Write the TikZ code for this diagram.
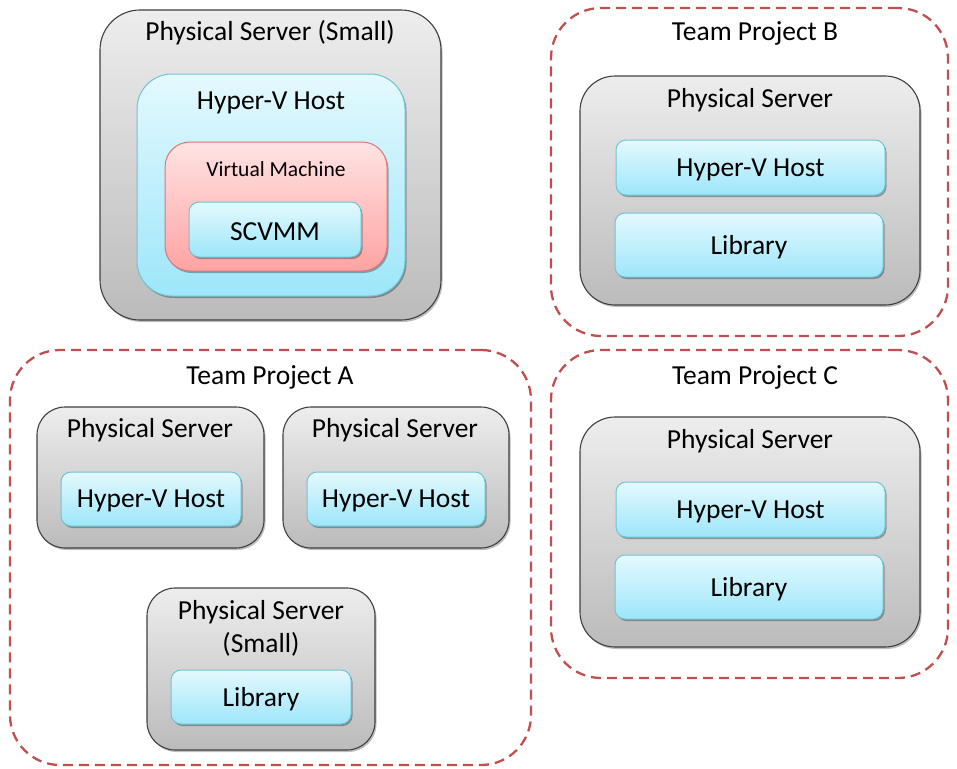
\documentclass[tikz,border=0pt]{standalone}
\usepackage{fontspec}
\setmainfont{Carlito}
\usetikzlibrary{shadows}
\definecolor{gtop}{HTML}{EDEDED}
\definecolor{gbot}{HTML}{BBBBBB}
\definecolor{gline}{HTML}{404040}
\definecolor{ctop}{HTML}{E4F9FE}
\definecolor{cbot}{HTML}{9DE6FA}
\definecolor{cline}{HTML}{6EC3D6}
\definecolor{ptop}{HTML}{FFE3E3}
\definecolor{pbot}{HTML}{FFA3A3}
\definecolor{pline}{HTML}{E07474}
\definecolor{dred}{HTML}{C0504D}
\begin{document}
\begin{tikzpicture}[x=1pt,y=-1pt,
  box/.style={anchor=north west, inner sep=0pt, outer sep=0pt},
  graybox/.style={box, draw=gline, line width=1.1pt, top color=gtop, bottom color=gbot, rounded corners=#1,
    drop shadow={shadow xshift=1.5pt, shadow yshift=-2pt, opacity=0.25, fill=black}},
  cyanbox/.style={box, draw=cline, line width=1pt, top color=ctop, bottom color=cbot, rounded corners=#1,
    drop shadow={shadow xshift=1.5pt, shadow yshift=-2pt, opacity=0.3, fill=black}},
  pinkbox/.style={box, draw=pline, line width=1pt, top color=ptop, bottom color=pbot, rounded corners=#1,
    drop shadow={shadow xshift=1.5pt, shadow yshift=-2pt, opacity=0.3, fill=black}},
  team/.style={box, draw=dred, line width=2.3pt, dash pattern=on 10pt off 6pt, rounded corners=50pt},
  lbl/.style={font=\fontsize{27.5}{33}\selectfont, inner sep=0pt, align=center, yshift=-2pt},
  slbl/.style={font=\fontsize{21.5}{26}\selectfont, inner sep=0pt, yshift=-1pt}
]
\useasboundingbox (0,0) rectangle (957,768);

% Top-left physical server (small)
\node[graybox=40pt, minimum width=341pt, minimum height=310pt] (ps0) at (100,10) {};
\node[lbl] (ps0t) at (270,31) {Physical Server (Small)};
\node[cyanbox=35pt, minimum width=268pt, minimum height=222pt] (hv0) at (137,74) {};
\node[lbl] (hv0t) at (271,101) {Hyper-V Host};
\node[pinkbox=25pt, minimum width=222pt, minimum height=129pt] (vm0) at (165,142) {};
\node[slbl] (vm0t) at (276,168) {Virtual Machine};
\node[cyanbox=10pt, minimum width=172pt, minimum height=55pt] (sc0) at (189,202) {};
\node[lbl] (sc0t) at (sc0.center) {SCVMM};

% Team Project B
\node[team, minimum width=397pt, minimum height=328pt] (tpb) at (551,8) {};
\node[lbl] (tpbt) at (755,31) {Team Project B};
\node[graybox=35pt, minimum width=340pt, minimum height=229pt] (psb) at (580,76) {};
\node[lbl] (psbt) at (750,98) {Physical Server};
\node[cyanbox=10pt, minimum width=269pt, minimum height=55pt] (hvb) at (616,140) {};
\node[lbl] (hvbt) at (hvb.center) {Hyper-V Host};
\node[cyanbox=10pt, minimum width=268pt, minimum height=64pt] (lbb) at (615,213) {};
\node[lbl] (lbbt) at (lbb.center) {Library};

% Team Project C
\node[team, minimum width=397pt, minimum height=328pt] (tpc) at (551,350) {};
\node[lbl] (tpct) at (755,375) {Team Project C};
\node[graybox=35pt, minimum width=340pt, minimum height=230pt] (psc) at (580,417) {};
\node[lbl] (psct) at (750,439) {Physical Server};
\node[cyanbox=10pt, minimum width=269pt, minimum height=55pt] (hvc) at (616,482) {};
\node[lbl] (hvct) at (hvc.center) {Hyper-V Host};
\node[cyanbox=10pt, minimum width=268pt, minimum height=64pt] (lbc) at (615,555) {};
\node[lbl] (lbct) at (lbc.center) {Library};

% Team Project A
\node[team, minimum width=521pt, minimum height=415pt] (tpa) at (10,350) {};
\node[lbl] (tpat) at (270,375) {Team Project A};
\node[graybox=28pt, minimum width=227pt, minimum height=141pt] (psa1) at (37,407) {};
\node[lbl] (psa1t) at (150,428) {Physical Server};
\node[cyanbox=10pt, minimum width=180pt, minimum height=54pt] (hva1) at (61,472) {};
\node[lbl] (hva1t) at (hva1.center) {Hyper-V Host};
\node[graybox=28pt, minimum width=226pt, minimum height=141pt] (psa2) at (283,407) {};
\node[lbl] (psa2t) at (395,428) {Physical Server};
\node[cyanbox=10pt, minimum width=178pt, minimum height=54pt] (hva2) at (307,472) {};
\node[lbl] (hva2t) at (hva2.center) {Hyper-V Host};
\node[graybox=28pt, minimum width=228pt, minimum height=162pt] (psa3) at (147,588) {};
\node[lbl] (psa3t) at (261,626) {Physical Server\\(Small)};
\node[cyanbox=10pt, minimum width=180pt, minimum height=54pt] (lba3) at (171,670) {};
\node[lbl] (lba3t) at (lba3.center) {Library};
\end{tikzpicture}
\end{document}
